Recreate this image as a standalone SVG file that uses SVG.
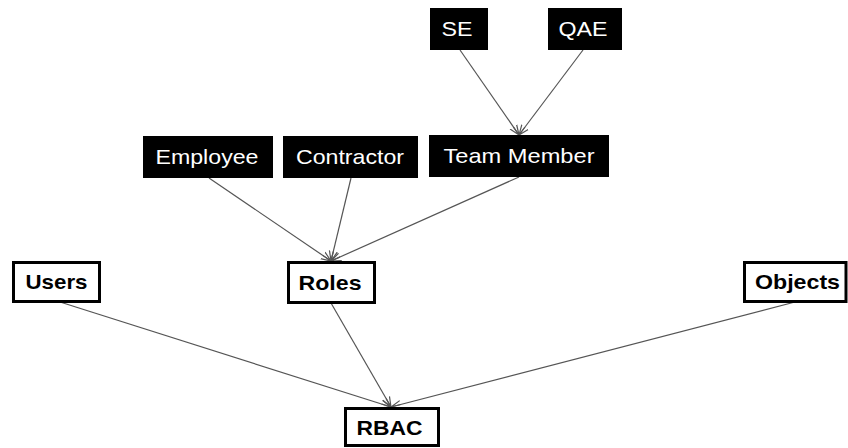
<svg xmlns="http://www.w3.org/2000/svg" width="848" height="448" viewBox="0 0 848 448">
  <style>
    .dark rect { fill: #000; stroke: none; }
    .dark text { fill: #fff; font-family: "Liberation Sans", Arial, sans-serif; font-size: 21px; text-anchor: middle; }
    .light rect { fill: #fff; stroke: #000; stroke-width: 3; }
    .light text { fill: #000; font-family: "Liberation Sans", Arial, sans-serif; font-size: 21px; font-weight: bold; text-anchor: middle; }
    .edge { stroke: #555; stroke-width: 1.2; fill: none; marker-end: url(#arrow); }
  </style>
  <defs>
    <marker id="arrow" viewBox="0 0 10 10" refX="10" refY="5" markerWidth="10" markerHeight="10" markerUnits="userSpaceOnUse" orient="auto">
      <path d="M0,1 L10,5 L0,9 M0,5 L10,5" fill="none" stroke="#555" stroke-width="1.2"/>
    </marker>
  </defs>

  <g id="connectors">
    <line class="edge" x1="460" y1="50" x2="519" y2="135"/>
    <line class="edge" x1="583" y1="50" x2="519" y2="135"/>
    <line class="edge" x1="209" y1="178" x2="331" y2="261"/>
    <line class="edge" x1="351" y1="178" x2="331" y2="261"/>
    <line class="edge" x1="519" y1="177" x2="331" y2="261"/>
    <line class="edge" x1="60" y1="302" x2="391" y2="407"/>
    <line class="edge" x1="331" y1="303" x2="391" y2="407"/>
    <line class="edge" x1="795" y1="302" x2="391" y2="407"/>
  </g>

  <g id="se" class="dark">
    <rect x="430" y="8" width="58" height="42"/>
    <text x="457" y="36" textLength="31" lengthAdjust="spacingAndGlyphs">SE</text>
  </g>
  <g id="qae" class="dark">
    <rect x="548" y="8" width="74" height="42"/>
    <text x="583" y="36" textLength="49" lengthAdjust="spacingAndGlyphs">QAE</text>
  </g>
  <g id="employee" class="dark">
    <rect x="143" y="136" width="130" height="42"/>
    <text x="207" y="164" textLength="103" lengthAdjust="spacingAndGlyphs">Employee</text>
  </g>
  <g id="contractor" class="dark">
    <rect x="283" y="136" width="135" height="42"/>
    <text x="350" y="164" textLength="108" lengthAdjust="spacingAndGlyphs">Contractor</text>
  </g>
  <g id="team-member" class="dark">
    <rect x="429" y="135" width="180" height="42"/>
    <text x="519" y="163" textLength="151" lengthAdjust="spacingAndGlyphs">Team Member</text>
  </g>
  <g id="users" class="light">
    <rect x="13.5" y="262.5" width="86" height="39"/>
    <text x="56.5" y="289" textLength="62" lengthAdjust="spacingAndGlyphs">Users</text>
  </g>
  <g id="roles" class="light">
    <rect x="288.5" y="262.5" width="86" height="40"/>
    <text x="330" y="290" textLength="63" lengthAdjust="spacingAndGlyphs">Roles</text>
  </g>
  <g id="objects" class="light">
    <rect x="744.5" y="262.5" width="101.5" height="39"/>
    <text x="797.5" y="289" textLength="85" lengthAdjust="spacingAndGlyphs">Objects</text>
  </g>
  <g id="rbac" class="light">
    <rect x="345.5" y="408.5" width="93" height="37"/>
    <text x="389.5" y="435" textLength="66" lengthAdjust="spacingAndGlyphs">RBAC</text>
  </g>
</svg>
